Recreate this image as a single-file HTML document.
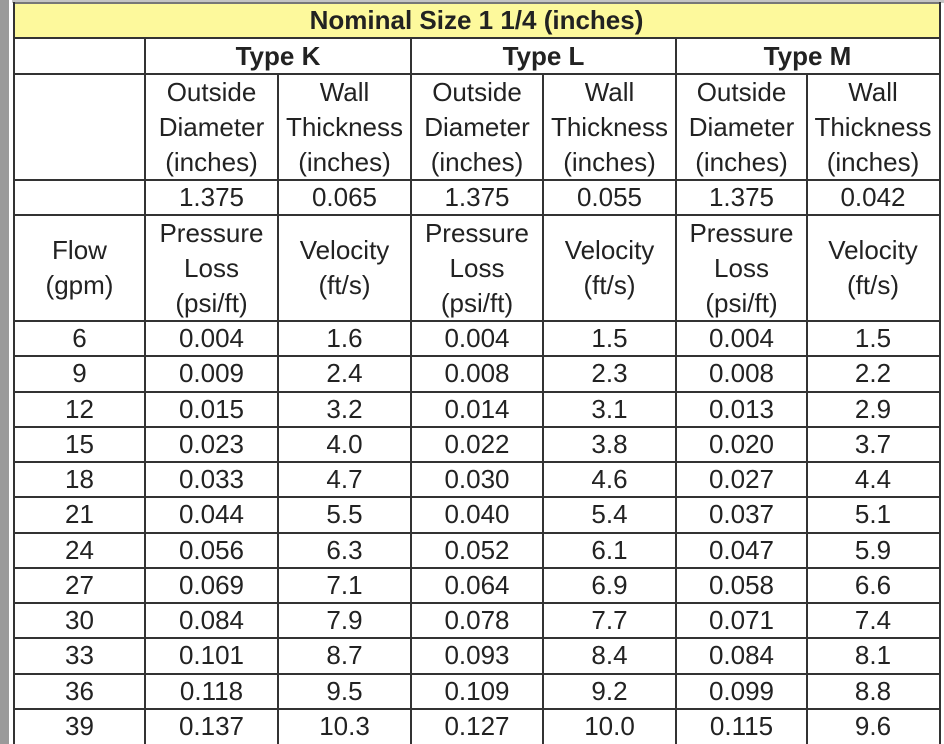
<!DOCTYPE html>
<html><head><meta charset="utf-8">
<style>
html,body{margin:0;padding:0;background:#fff;}
body{width:944px;height:744px;position:relative;overflow:hidden;font-family:"Liberation Sans",Arial,sans-serif;color:#222;}
.strip{position:absolute;left:0;top:0;width:9px;height:744px;background:#9a9a9a;}
.topl{position:absolute;left:12px;top:0;width:932px;height:3px;background:#c4c4c4;}
.title{position:absolute;left:14px;top:3px;width:925px;height:34px;background:#fdf99c;}
.h{position:absolute;height:2px;background:#333;}
.v{position:absolute;width:2px;background:#333;}
.row{position:absolute;left:14px;width:925px;display:flex;}
.row div{display:flex;align-items:center;justify-content:center;text-align:center;font-size:26px;line-height:35px;}
.c0{width:131px}.c1{width:133px}.c2{width:133px}.c3{width:132px}.c4{width:133px}.c5{width:131px}.c6{width:132px}
.b{font-weight:bold;}
</style></head><body>
<div class="strip"></div>
<div class="topl"></div>
<div class="title"></div>

<!-- title -->
<div class="row" style="top:3px;height:34px;"><div class="b" style="width:925px;">Nominal Size 1 1/4 (inches)</div></div>
<!-- type row -->
<div class="row" style="top:38px;height:36px;">
<div class="c0"></div>
<div class="b" style="width:266px;">Type K</div>
<div class="b" style="width:265px;">Type L</div>
<div class="b" style="width:263px;">Type M</div>
</div>
<!-- header -->
<div class="row" style="top:74px;height:106px;">
<div class="c0"></div>
<div class="c1">Outside<br>Diameter<br>(inches)</div>
<div class="c2">Wall<br>Thickness<br>(inches)</div>
<div class="c3">Outside<br>Diameter<br>(inches)</div>
<div class="c4">Wall<br>Thickness<br>(inches)</div>
<div class="c5">Outside<br>Diameter<br>(inches)</div>
<div class="c6">Wall<br>Thickness<br>(inches)</div>
</div>
<div class="row" style="top:180px;height:35px;">
<div class="c0"></div>
<div class="c1">1.375</div><div class="c2">0.065</div>
<div class="c3">1.375</div><div class="c4">0.055</div>
<div class="c5">1.375</div><div class="c6">0.042</div>
</div>
<div class="row" style="top:215px;height:106px;">
<div class="c0">Flow<br>(gpm)</div>
<div class="c1">Pressure<br>Loss<br>(psi/ft)</div>
<div class="c2">Velocity<br>(ft/s)</div>
<div class="c3">Pressure<br>Loss<br>(psi/ft)</div>
<div class="c4">Velocity<br>(ft/s)</div>
<div class="c5">Pressure<br>Loss<br>(psi/ft)</div>
<div class="c6">Velocity<br>(ft/s)</div>
</div>

<!-- data -->
<div class="row" style="top:321px;height:35px;"><div class="c0">6</div><div class="c1">0.004</div><div class="c2">1.6</div><div class="c3">0.004</div><div class="c4">1.5</div><div class="c5">0.004</div><div class="c6">1.5</div></div>
<div class="row" style="top:356.25px;height:35px;"><div class="c0">9</div><div class="c1">0.009</div><div class="c2">2.4</div><div class="c3">0.008</div><div class="c4">2.3</div><div class="c5">0.008</div><div class="c6">2.2</div></div>
<div class="row" style="top:391.5px;height:35px;"><div class="c0">12</div><div class="c1">0.015</div><div class="c2">3.2</div><div class="c3">0.014</div><div class="c4">3.1</div><div class="c5">0.013</div><div class="c6">2.9</div></div>
<div class="row" style="top:426.75px;height:35px;"><div class="c0">15</div><div class="c1">0.023</div><div class="c2">4.0</div><div class="c3">0.022</div><div class="c4">3.8</div><div class="c5">0.020</div><div class="c6">3.7</div></div>
<div class="row" style="top:462px;height:35px;"><div class="c0">18</div><div class="c1">0.033</div><div class="c2">4.7</div><div class="c3">0.030</div><div class="c4">4.6</div><div class="c5">0.027</div><div class="c6">4.4</div></div>
<div class="row" style="top:497.25px;height:35px;"><div class="c0">21</div><div class="c1">0.044</div><div class="c2">5.5</div><div class="c3">0.040</div><div class="c4">5.4</div><div class="c5">0.037</div><div class="c6">5.1</div></div>
<div class="row" style="top:532.5px;height:35px;"><div class="c0">24</div><div class="c1">0.056</div><div class="c2">6.3</div><div class="c3">0.052</div><div class="c4">6.1</div><div class="c5">0.047</div><div class="c6">5.9</div></div>
<div class="row" style="top:567.75px;height:35px;"><div class="c0">27</div><div class="c1">0.069</div><div class="c2">7.1</div><div class="c3">0.064</div><div class="c4">6.9</div><div class="c5">0.058</div><div class="c6">6.6</div></div>
<div class="row" style="top:603px;height:35px;"><div class="c0">30</div><div class="c1">0.084</div><div class="c2">7.9</div><div class="c3">0.078</div><div class="c4">7.7</div><div class="c5">0.071</div><div class="c6">7.4</div></div>
<div class="row" style="top:638.25px;height:35px;"><div class="c0">33</div><div class="c1">0.101</div><div class="c2">8.7</div><div class="c3">0.093</div><div class="c4">8.4</div><div class="c5">0.084</div><div class="c6">8.1</div></div>
<div class="row" style="top:673.5px;height:35px;"><div class="c0">36</div><div class="c1">0.118</div><div class="c2">9.5</div><div class="c3">0.109</div><div class="c4">9.2</div><div class="c5">0.099</div><div class="c6">8.8</div></div>
<div class="row" style="top:708.75px;height:35px;"><div class="c0">39</div><div class="c1">0.137</div><div class="c2">10.3</div><div class="c3">0.127</div><div class="c4">10.0</div><div class="c5">0.115</div><div class="c6">9.6</div></div>

<!-- horizontal lines -->
<div class="h" style="left:13px;width:928px;top:2px;background:#777;"></div>
<div class="h" style="left:13px;width:928px;top:37px;"></div>
<div class="h" style="left:13px;width:928px;top:73px;"></div>
<div class="h" style="left:13px;width:928px;top:179px;"></div>
<div class="h" style="left:13px;width:928px;top:214px;"></div>
<div class="h" style="left:13px;width:928px;top:320px;"></div>
<div class="h" style="left:13px;width:928px;top:355px;"></div>
<div class="h" style="left:13px;width:928px;top:391px;"></div>
<div class="h" style="left:13px;width:928px;top:426px;"></div>
<div class="h" style="left:13px;width:928px;top:461px;"></div>
<div class="h" style="left:13px;width:928px;top:496px;"></div>
<div class="h" style="left:13px;width:928px;top:532px;"></div>
<div class="h" style="left:13px;width:928px;top:567px;"></div>
<div class="h" style="left:13px;width:928px;top:602px;"></div>
<div class="h" style="left:13px;width:928px;top:637px;"></div>
<div class="h" style="left:13px;width:928px;top:673px;"></div>
<div class="h" style="left:13px;width:928px;top:708px;"></div>

<!-- vertical lines -->
<div class="v" style="left:13px;top:2px;height:742px;"></div>
<div class="v" style="left:939px;top:2px;height:742px;"></div>
<div class="v" style="left:144px;top:37px;height:707px;"></div>
<div class="v" style="left:410px;top:37px;height:707px;"></div>
<div class="v" style="left:675px;top:37px;height:707px;"></div>
<div class="v" style="left:277px;top:73px;height:671px;"></div>
<div class="v" style="left:542px;top:73px;height:671px;"></div>
<div class="v" style="left:806px;top:73px;height:671px;"></div>
</body></html>
